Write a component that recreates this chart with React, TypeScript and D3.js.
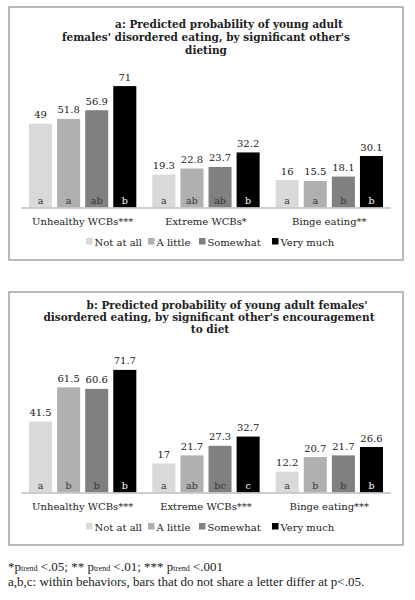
import React from "react";
import * as d3 from "d3";

const levels = ["Not at all", "A little", "Somewhat", "Very much"];
const levelColors = ["#d9d9d9", "#b0b0b0", "#808080", "#000000"];
const letterColors = ["#333333", "#333333", "#333333", "#ffffff"];

const catsA = ["Unhealthy WCBs***", "Extreme WCBs*", "Binge eating**"];
const valuesA = [
  [49, 51.8, 56.9, 71],
  [19.3, 22.8, 23.7, 32.2],
  [16, 15.5, 18.1, 30.1],
];
const lettersA = [
  ["a", "a", "ab", "b"],
  ["a", "ab", "ab", "b"],
  ["a", "a", "b", "b"],
];
const titleA = [
  "a:  Predicted probability of young adult",
  "females' disordered eating, by significant other's",
  "dieting",
];

const catsB = ["Unhealthy WCBs***", "Extreme WCBs***", "Binge eating***"];
const valuesB = [
  [41.5, 61.5, 60.6, 71.7],
  [17, 21.7, 27.3, 32.7],
  [12.2, 20.7, 21.7, 26.6],
];
const lettersB = [
  ["a", "b", "b", "b"],
  ["a", "ab", "bc", "c"],
  ["a", "b", "b", "b"],
];
const titleB = [
  "b: Predicted probability of young adult females'",
  "disordered eating, by significant other's encouragement",
  "to diet",
];

const FONT = "'DejaVu Serif', serif";

type PanelProps = {
  top: number;
  cats: string[];
  values: number[][];
  letters: string[][];
  title: string[];
  titleX: number[];
  titleY: number[];
};

function Panel({ top, cats, values, letters, title, titleX, titleY }: PanelProps) {
  const baseline = top + 200.5;
  const x0 = d3
    .scaleBand<string>()
    .domain(cats)
    .range([21, 391])
    .paddingInner(0.13)
    .paddingOuter(0.065);
  const x1 = d3
    .scaleBand<string>()
    .domain(levels)
    .range([0, x0.bandwidth()])
    .paddingInner(0.18)
    .paddingOuter(0);
  const y = d3.scaleLinear().domain([0, 80]).range([baseline, baseline - 80 * 1.71]);
  const legendSq = [86, 148, 199, 272];
  return (
    <g>
      <rect x={9} y={top} width={394} height={253} fill="#fff" stroke="#8c8c8c" strokeWidth={1.2} />
      {title.map((t, i) => (
        <text
          key={i}
          x={titleX[i]}
          y={top + titleY[i]}
          textAnchor="middle"
          fontFamily={FONT}
          fontWeight="bold"
          fontSize={10.5}
          fill="#222"
        >
          {t}
        </text>
      ))}
      {cats.map((c, ci) => (
        <g key={c}>
          {levels.map((l, li) => {
            const v = values[ci][li];
            const bx = (x0(c) as number) + (x1(l) as number);
            const bw = x1.bandwidth();
            return (
              <g key={l}>
                <rect x={bx} y={y(v)} width={bw} height={baseline - y(v)} fill={levelColors[li]} />
                <text
                  x={bx + bw / 2}
                  y={y(v) - 5.5}
                  textAnchor="middle"
                  fontFamily={FONT}
                  fontSize={10}
                  fill="#222"
                >
                  {v}
                </text>
                <text
                  x={bx + bw / 2}
                  y={baseline - 3.5}
                  textAnchor="middle"
                  fontFamily={FONT}
                  fontSize={9.5}
                  fill={letterColors[li]}
                >
                  {letters[ci][li]}
                </text>
              </g>
            );
          })}
          <text
            x={(x0(c) as number) + x0.bandwidth() / 2}
            y={top + 218}
            textAnchor="middle"
            fontFamily={FONT}
            fontSize={10}
            fill="#222"
          >
            {c}
          </text>
        </g>
      ))}
      <line x1={21} x2={391} y1={baseline + 0.5} y2={baseline + 0.5} stroke="#bfbfbf" strokeWidth={1.3} />
      {levels.map((l, li) => (
        <g key={l}>
          <rect x={legendSq[li]} y={top + 234.5 - 3.5} width={6.5} height={6.5} fill={levelColors[li]} />
          <text x={legendSq[li] + 8.5} y={top + 238.5} fontFamily={FONT} fontSize={10} fill="#222">
            {l}
          </text>
        </g>
      ))}
    </g>
  );
}

export default function App() {
  const FN = "'Liberation Serif', 'Times New Roman', serif";
  return (
    <svg
      width={415}
      height={600}
      style={{ position: "absolute", left: 0, top: 0, background: "#fff" }}
    >
      <rect x={0} y={0} width={415} height={600} fill="#fff" />
      <Panel
        top={7}
        cats={catsA}
        values={valuesA}
        letters={lettersA}
        title={titleA}
        titleX={[229, 206, 206]}
        titleY={[21, 34, 47]}
      />
      <Panel
        top={292}
        cats={catsB}
        values={valuesB}
        letters={lettersB}
        title={titleB}
        titleX={[227, 209, 210]}
        titleY={[17, 29, 41]}
      />
      <text x={8} y={570.5} fontFamily={FN} fontSize={13} fill="#222">
        *p<tspan fontSize={8}>trend</tspan>
        <tspan> {"<.05; ** p"}</tspan>
        <tspan fontSize={8}>trend</tspan>
        <tspan> {"<.01; *** p"}</tspan>
        <tspan fontSize={8}>trend</tspan>
        <tspan> {"<.001"}</tspan>
      </text>
      <text x={8} y={585.5} fontFamily={FN} fontSize={13} fill="#222">
        a,b,c: within behaviors, bars that do not share a letter differ at p&lt;.05.
      </text>
    </svg>
  );
}
